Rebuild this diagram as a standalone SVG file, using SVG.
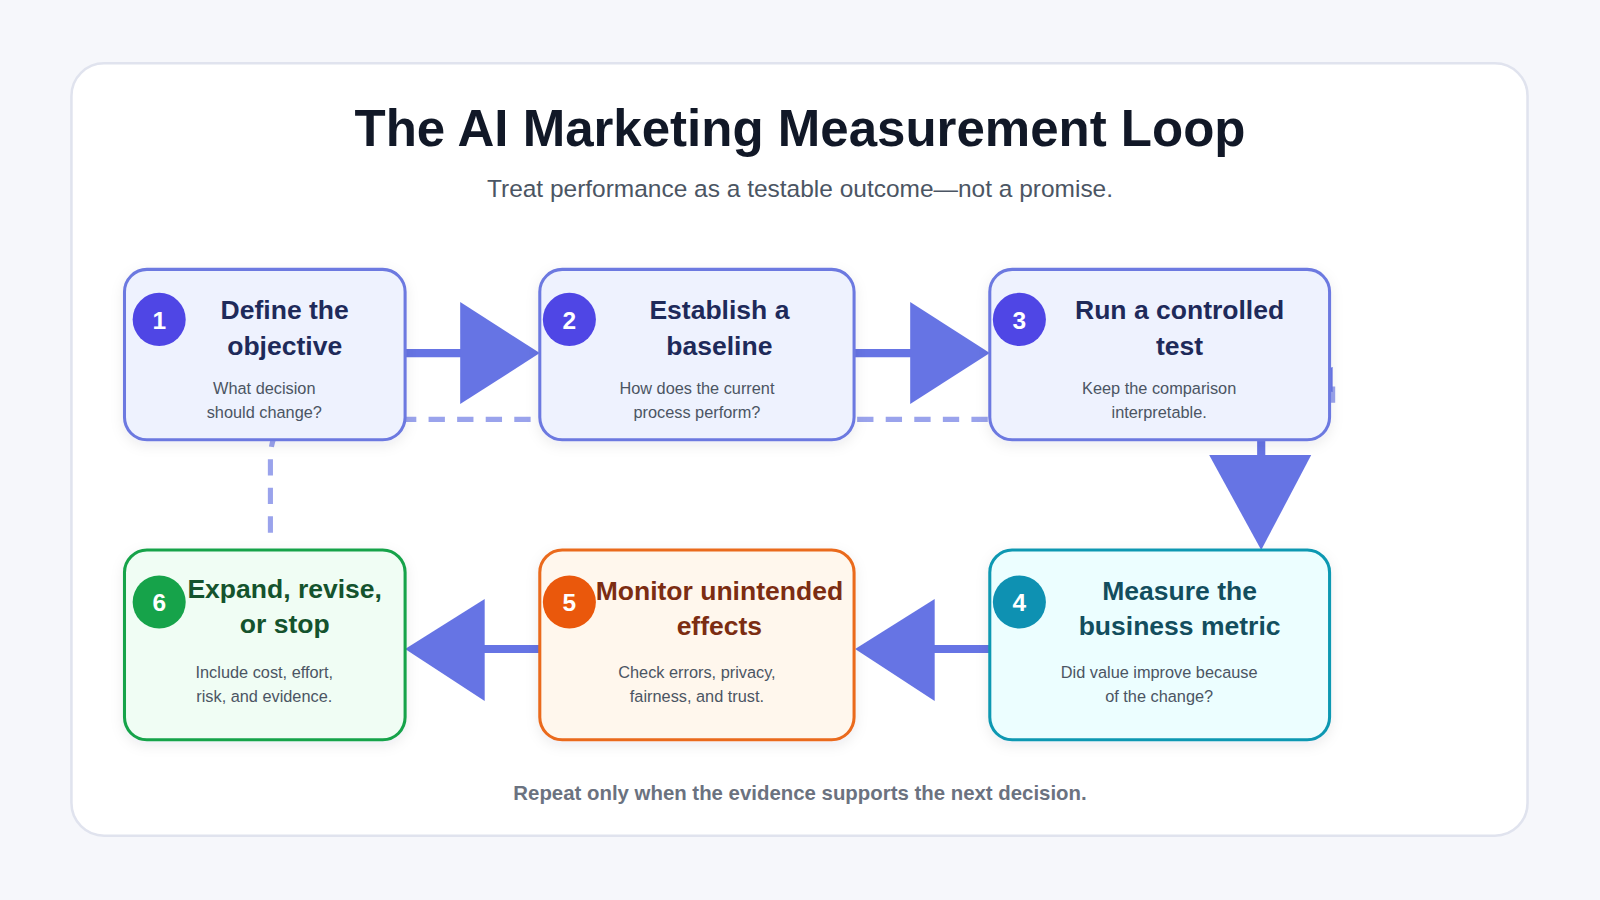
<svg xmlns="http://www.w3.org/2000/svg" width="1600" height="900" viewBox="0 0 1600 900">
<defs>
<filter id="sh" x="-10%" y="-10%" width="120%" height="130%"><feDropShadow dx="0" dy="4" stdDeviation="6" flood-color="#1e293b" flood-opacity="0.08"/></filter>
<marker id="up" viewBox="0 0 10 10" refX="5" refY="10" markerWidth="5" markerHeight="5" orient="auto"><path d="M0,10 L5,0 L10,10 Z" fill="#6674e4"/></marker>
</defs>
<style>
text{font-family:"Liberation Sans",Arial,sans-serif}
.t{font-size:26px;font-weight:bold;text-anchor:middle}
.d{font-size:16px;fill:#4b5563;text-anchor:middle}
.n{font-size:24px;font-weight:bold;fill:#fff;text-anchor:middle}
.ln{stroke:#6674e4;stroke-width:8;fill:none}
.hd{fill:#6674e4}
.b{stroke-width:3}
</style>
<rect width="1600" height="900" fill="#f6f7fb"/>
<g transform="scale(1.0204)">
<rect x="70" y="62" width="1427" height="757" rx="32" fill="#fff" stroke="#e0e3ee" stroke-width="2.5"/>
<text x="784" y="143" font-size="50" font-weight="bold" fill="#111827" text-anchor="middle">The AI Marketing Measurement Loop</text>
<text x="784" y="193" font-size="24" fill="#4b5563" text-anchor="middle">Treat performance as a testable outcome—not a promise.</text>
<g id="connectors">
<path d="M265,522 V450 Q265,411 300,411 H1290 Q1306,411 1306,395 V372" fill="none" stroke="#9aa3ec" stroke-width="5" stroke-dasharray="16,12" marker-end="url(#up)"/>
<line class="ln" x1="397" y1="346" x2="455" y2="346"/><path class="hd" d="M451,296 L529,346 L451,396 Z"/>
<line class="ln" x1="837" y1="346" x2="896" y2="346"/><path class="hd" d="M892,296 L970,346 L892,396 Z"/>
<line class="ln" x1="1236" y1="431" x2="1236" y2="450"/><path class="hd" d="M1185,446 L1285,446 L1236,539 Z"/>
<line class="ln" x1="970" y1="636" x2="912" y2="636"/><path class="hd" d="M916,587 L838,636 L916,687 Z"/>
<line class="ln" x1="529" y1="636" x2="471" y2="636"/><path class="hd" d="M475,587 L397,636 L475,687 Z"/>
</g>
<g id="node1"><rect class="b" x="122" y="264" width="275" height="167" rx="22" fill="#eef2fe" stroke="#6c79e0" filter="url(#sh)"/>
<circle cx="156" cy="313" r="26" fill="#4f46e5"/><text class="n" x="156" y="322">1</text>
<text class="t" x="279" y="313" fill="#1e2a5a">Define the</text><text class="t" x="279" y="348" fill="#1e2a5a">objective</text>
<text class="d" x="259" y="386">What decision</text><text class="d" x="259" y="410">should change?</text></g>
<g id="node2"><rect class="b" x="529" y="264" width="308" height="167" rx="22" fill="#eef2fe" stroke="#6c79e0" filter="url(#sh)"/>
<circle cx="558" cy="313" r="26" fill="#4f46e5"/><text class="n" x="558" y="322">2</text>
<text class="t" x="705" y="313" fill="#1e2a5a">Establish a</text><text class="t" x="705" y="348" fill="#1e2a5a">baseline</text>
<text class="d" x="683" y="386">How does the current</text><text class="d" x="683" y="410">process perform?</text></g>
<g id="node3"><rect class="b" x="970" y="264" width="333" height="167" rx="22" fill="#eef2fe" stroke="#6c79e0" filter="url(#sh)"/>
<circle cx="999" cy="313" r="26" fill="#4f46e5"/><text class="n" x="999" y="322">3</text>
<text class="t" x="1156" y="313" fill="#1e2a5a">Run a controlled</text><text class="t" x="1156" y="348" fill="#1e2a5a">test</text>
<text class="d" x="1136" y="386">Keep the comparison</text><text class="d" x="1136" y="410">interpretable.</text></g>
<g id="node4"><rect class="b" x="970" y="539" width="333" height="186" rx="22" fill="#ecfeff" stroke="#0e98b2" filter="url(#sh)"/>
<circle cx="999" cy="590" r="26" fill="#0e91b2"/><text class="n" x="999" y="599">4</text>
<text class="t" x="1156" y="588" fill="#134e5e">Measure the</text><text class="t" x="1156" y="622" fill="#134e5e">business metric</text>
<text class="d" x="1136" y="664">Did value improve because</text><text class="d" x="1136" y="688">of the change?</text></g>
<g id="node5"><rect class="b" x="529" y="539" width="308" height="186" rx="22" fill="#fff7ed" stroke="#ea6a1c" filter="url(#sh)"/>
<circle cx="558" cy="590" r="26" fill="#ea580c"/><text class="n" x="558" y="599">5</text>
<text class="t" x="705" y="588" fill="#7c2d12">Monitor unintended</text><text class="t" x="705" y="622" fill="#7c2d12">effects</text>
<text class="d" x="683" y="664">Check errors, privacy,</text><text class="d" x="683" y="688">fairness, and trust.</text></g>
<g id="node6"><rect class="b" x="122" y="539" width="275" height="186" rx="22" fill="#f0fdf4" stroke="#16a34a" filter="url(#sh)"/>
<circle cx="156" cy="590" r="26" fill="#16a34a"/><text class="n" x="156" y="599">6</text>
<text class="t" x="279" y="586" fill="#14532d">Expand, revise,</text><text class="t" x="279" y="620" fill="#14532d">or stop</text>
<text class="d" x="259" y="664">Include cost, effort,</text><text class="d" x="259" y="688">risk, and evidence.</text></g>
<text x="784" y="784" font-size="20" font-weight="bold" fill="#6b7280" text-anchor="middle">Repeat only when the evidence supports the next decision.</text>
</g>
</svg>
